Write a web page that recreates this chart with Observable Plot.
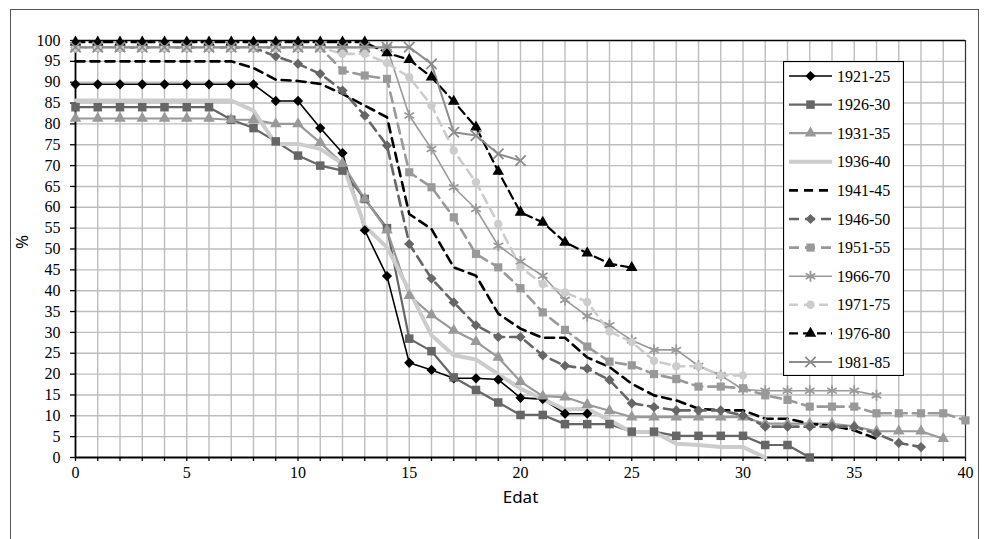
<!DOCTYPE html>
<html><head><meta charset="utf-8">
<script src="https://cdn.jsdelivr.net/npm/d3@7"></script>
<script src="https://cdn.jsdelivr.net/npm/@observablehq/plot@0.6"></script>
<style>
body{margin:0;background:#fff;}
#wrap{position:relative;width:985px;height:539px;overflow:hidden;background:#fff;}
#frame{position:absolute;left:10px;top:9px;width:969px;height:560px;border:1px solid #555;box-sizing:border-box;}
#chart{position:absolute;left:0;top:0;}
#legend{position:absolute;left:783px;top:61px;}
</style></head><body>
<div id="wrap"><div id="frame"></div><div id="chart"></div><div id="legend"></div></div>
<script>
// Each array: value at index i is the % at age (Edat) i, starting from 0.
const seriesNames = ["1921-25","1926-30","1931-35","1936-40","1941-45","1946-50","1951-55","1966-70","1971-75","1976-80","1981-85"];
const s1921_25 = [89.5,89.5,89.5,89.5,89.5,89.5,89.5,89.5,89.5,85.5,85.5,79,73,54.5,43.5,22.7,21,19,19,18.7,14.3,14,10.5,10.5];
const s1926_30 = [84,84,84,84,84,84,84,81,79,75.8,72.4,70,68.8,62,55,28.5,25.5,19.2,16.2,13.2,10.2,10.2,8,8,8,6.2,6.2,5.2,5.2,5.2,5.2,3,3,0];
const s1931_35 = [81.3,81.3,81.3,81.3,81.3,81.3,81.3,81,81,80,80,75.5,70.5,62,54.5,38.8,34.2,30.5,27.8,24,18.2,14.7,14.5,12.7,11.2,9.7,9.7,9.7,9.7,9.7,9.7,8.1,8.1,8.1,8.1,7.5,6.3,6.3,6.3,4.5];
const s1936_40 = [85.6,85.6,85.6,85.6,85.6,85.6,85.6,85.6,83.2,75.2,75.2,74,70.4,55.5,50.4,40,29.3,24.5,23.5,20,16.5,14,11.5,11.7,8.9,6.1,6.1,3.3,3,2.5,2.5,0];
const s1941_45 = [95,95,95,95,95,95,95,95,93.4,90.6,90.3,89.6,87.2,84.4,81.6,58.4,54.8,45.6,43.6,34.5,30.9,28.7,28.7,24,21.7,17.7,14.9,13.7,11.7,11.3,11.3,9.3,9.3,8.1,7.6,6.5,4.5];
const s1946_50 = [98.3,98.3,98.3,98.3,98.3,98.3,98.3,98.3,98.3,96.2,94.4,92,88,82,74.8,51.2,42.9,37.2,31.7,28.9,28.9,24.5,22,21.3,18.6,13,12.1,11.3,11.3,11.3,10.1,7.4,7.4,7.4,7.4,7.4,5.7,3.5,2.5];
const s1951_55 = [98.3,98.3,98.3,98.3,98.3,98.3,98.3,98.3,98.3,98.3,98.3,98.3,92.8,91.6,90.8,68.4,64.8,57.6,48.8,45.6,40.6,34.8,30.6,26.6,23,22.1,20,18.8,17,17,16.6,14.9,13.8,12.2,12.2,12.2,10.6,10.6,10.6,10.6,8.9];
const s1966_70 = [98.3,98.3,98.3,98.3,98.3,98.3,98.3,98.3,98.3,98.3,98.3,98.3,98.3,98.3,98.3,82,74,64.8,59.6,50.8,47,43.6,37.8,33.9,31.7,28.1,25.8,25.8,22,19.7,16.3,16,16,16,16,16,14.9];
const s1971_75 = [98.3,98.3,98.3,98.3,98.3,98.3,98.3,98.3,98.3,98.3,98.3,98.3,96.8,96.8,94.6,91.2,84.4,73.6,66,56,45.6,41.6,39.6,37.3,30.2,27.7,23.2,21.9,21.9,19.7,19.7];
const s1976_80 = [99.6,99.6,99.6,99.6,99.6,99.6,99.6,99.6,99.6,99.6,99.6,99.6,99.6,99.6,97,95.4,91.2,85.4,79.2,68.6,58.8,56.4,51.6,49,46.5,45.5];
const s1981_85 = [98.4,98.4,98.4,98.4,98.4,98.4,98.4,98.4,98.4,98.4,98.4,98.4,98.4,98.4,98.4,98.4,94.4,78,77.2,72.8,71.2];
const seriesValues = [s1921_25,s1926_30,s1931_35,s1936_40,s1941_45,s1946_50,s1951_55,s1966_70,s1971_75,s1976_80,s1981_85];
const xTicks = [0,5,10,15,20,25,30,35,40];
const yTicks = [0,5,10,15,20,25,30,35,40,45,50,55,60,65,70,75,80,85,90,95,100];

const styles = {
  "1921-25": {stroke:"#000", w:1.6, dash:null, symbol:"diamond2", fill:"#000", r:4.6, sw:0},
  "1926-30": {stroke:"#666", w:2.2, dash:null, symbol:"square", fill:"#666", r:4.8, sw:0},
  "1931-35": {stroke:"#999", w:2.2, dash:null, symbol:"triangle", fill:"#999", r:4.3, sw:0},
  "1936-40": {stroke:"#cccccc", w:4, dash:null, symbol:null},
  "1941-45": {stroke:"#000", w:2.6, dash:"9,6", symbol:null},
  "1946-50": {stroke:"#666", w:2.6, dash:"10,6", symbol:"diamond2", fill:"#666", r:4.6, sw:0},
  "1951-55": {stroke:"#999", w:2.6, dash:"10,6", symbol:"square", fill:"#999", r:4.6, sw:0},
  "1966-70": {stroke:"#999", w:1.6, dash:null, symbol:"asterisk", fill:"none", r:5.2, sw:1.8, mstroke:"#999"},
  "1971-75": {stroke:"#cccccc", w:2.6, dash:"9,6", symbol:"circle", fill:"#cccccc", r:4.2, sw:0},
  "1976-80": {stroke:"#000", w:2.2, dash:"9,5", symbol:"triangle", fill:"#000", r:4.3, sw:0},
  "1981-85": {stroke:"#8c8c8c", w:2, dash:null, symbol:"times", fill:"none", r:4.8, sw:1.8, mstroke:"#8c8c8c"}
};

const series = seriesNames.map((name, k) => ({
  name,
  rows: seriesValues[k].map((v, i) => ({serie: name, edat: i, pct: v}))
}));

const marks = [
  Plot.gridX({ticks: d3.range(1, 41), stroke: "#bdbdbd", strokeOpacity: 1, strokeWidth: 1.4}),
  Plot.gridY({ticks: d3.range(5, 100, 5), stroke: "#bdbdbd", strokeOpacity: 1, strokeWidth: 1.4}),
  Plot.ruleY([100], {stroke: "#000", strokeWidth: 1.3}),
  Plot.ruleX([40], {stroke: "#333", strokeWidth: 1.1}),
  Plot.ruleX([0], {stroke: "#000", strokeWidth: 1.8}),
  Plot.ruleY([0], {stroke: "#000", strokeWidth: 1.8}),
  Plot.axisX({ticks: d3.range(0, 41), tickSize: 4, text: null, label: null, strokeWidth: 1.3}),
  Plot.axisX({ticks: xTicks, tickSize: 0, tickPadding: 9, fontSize: 16, label: null}),
  Plot.axisY({ticks: yTicks, tickSize: 5, tickPadding: 10, fontSize: 16, label: null, strokeWidth: 1.3}),
  Plot.text(["%"], {frameAnchor: "left", dx: -53, rotate: -90, fontFamily: "'Noto Sans', 'Open Sans', sans-serif", fontSize: 17, fill: "#000"}),
  Plot.text(["Edat"], {frameAnchor: "bottom", dy: 40, lineAnchor: "middle", fontFamily: "'Noto Sans', 'Open Sans', sans-serif", fontSize: 17, fill: "#000"})
];

for (const s of series) {
  const st = styles[s.name];
  marks.push(Plot.line(s.rows, {x: "edat", y: "pct", stroke: st.stroke, strokeWidth: st.w, strokeDasharray: st.dash || undefined, strokeLinejoin: "round"}));
}
for (const s of series) {
  const st = styles[s.name];
  if (!st.symbol) continue;
  marks.push(Plot.dot(s.rows, {x: "edat", y: "pct", symbol: st.symbol, r: st.r, fill: st.fill, stroke: st.mstroke || "none", strokeWidth: st.sw}));
}

const chart = Plot.plot({
  width: 985,
  height: 539,
  marginLeft: 75,
  marginRight: 20,
  marginTop: 40,
  marginBottom: 82,
  style: {fontFamily: "'Liberation Serif', 'DejaVu Serif', serif", fontSize: "16px", background: "transparent", color: "#000"},
  x: {type: "linear", domain: [0, 40]},
  y: {type: "linear", domain: [0, 100]},
  marks
});
document.getElementById("chart").appendChild(chart);

// Legend
const lw = 121, lh = 315, step = 28.6;
const lsvg = d3.select("#legend").append("svg").attr("width", lw).attr("height", lh)
  .style("font-family", "'Liberation Serif', 'DejaVu Serif', serif");
lsvg.append("rect").attr("x", 0.5).attr("y", 0.5).attr("width", lw - 1).attr("height", lh - 1)
  .attr("fill", "#fff").attr("stroke", "#000").attr("stroke-width", 1.2);
const symMap = {diamond2: d3.symbolDiamond2, square: d3.symbolSquare, triangle: d3.symbolTriangle, asterisk: d3.symbolAsterisk, circle: d3.symbolCircle, times: d3.symbolTimes};
seriesNames.forEach((name, i) => {
  const st = styles[name];
  const y = 15 + i * step;
  lsvg.append("line").attr("x1", 6).attr("x2", 49).attr("y1", y).attr("y2", y)
    .attr("stroke", st.stroke).attr("stroke-width", st.w).attr("stroke-dasharray", st.dash || null);
  if (st.symbol) {
    lsvg.append("path").attr("transform", `translate(27.5,${y})`)
      .attr("d", d3.symbol(symMap[st.symbol], Math.PI * st.r * st.r)())
      .attr("fill", st.fill).attr("stroke", st.mstroke || "none").attr("stroke-width", st.sw);
  }
  lsvg.append("text").attr("x", 54).attr("y", y).attr("dy", "0.35em").attr("font-size", 16).attr("fill", "#000").text(name);
});
</script>
</body></html>
